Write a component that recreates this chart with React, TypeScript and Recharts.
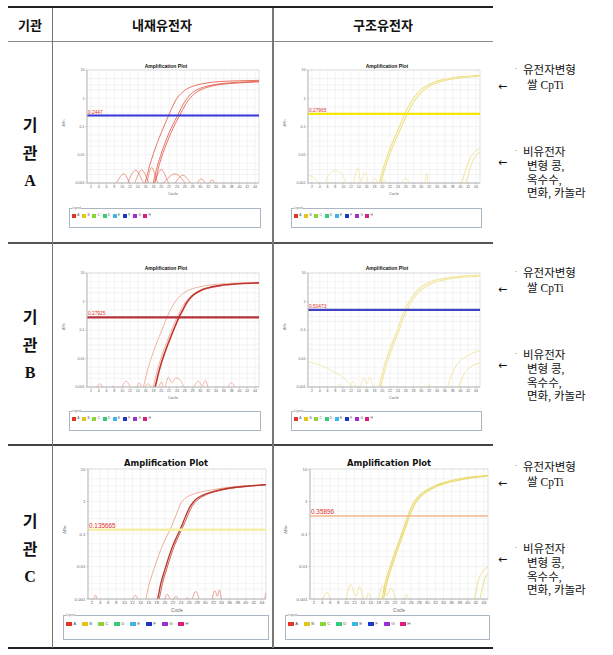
import React from "react";
import {
  CartesianGrid,
  Line,
  LineChart,
  ReferenceArea,
  ReferenceLine,
  XAxis,
  YAxis,
} from "recharts";

type Pt = [number, number];

// axes: cycle 1-45, ΔRn on log scale
const cycleTicks = [2, 4, 6, 8, 10, 12, 14, 16, 18, 20, 22, 24, 26, 28, 30, 32, 34, 36, 38, 40, 42, 44];
const rnTicks = [0.001, 0.01, 0.1, 1, 10];
const rnGrid = [0.001, 0.002, 0.003, 0.005, 0.01, 0.02, 0.03, 0.05, 0.1, 0.2, 0.3, 0.5, 1, 2, 3, 5, 10];

const headers = ["기관", "내재유전자", "구조유전자"];
const institutes = ["A", "B", "C"];
const gmLines = ["유전자변형", "쌀 CpTi"];
const nonGmLines = ["비유전자", "변형 콩,", "옥수수,", "면화, 카놀라"];
const wellLetters = ["A", "B", "C", "D", "E", "F", "G", "H"];
const wellColors = ["#e0352b", "#e3c417", "#8bd33a", "#35cc78", "#3cb6e2", "#1c36c8", "#9a30d0", "#d81f7d"];

// thresholds: A-left, A-right, B-left, B-right, C-left, C-right
const thresholds = [0.2447, 0.27965, 0.27925, 0.50473, 0.135665, 0.35896];

// ---- 기관 A, 내재유전자
const aLeftRun1: Pt[] = [[15, 0.0005], [16, 0.0012], [17, 0.004], [18, 0.011], [19, 0.027], [20, 0.06], [21, 0.13], [22, 0.27], [23, 0.55], [24, 1.0], [25, 1.45], [26, 1.9], [27, 2.3], [28, 2.65], [30, 3.15], [32, 3.55], [35, 3.9], [40, 4.15], [45, 4.3]];
const aLeftRun2: Pt[] = [[17, 0.0005], [18, 0.0011], [19, 0.004], [20, 0.011], [21, 0.027], [22, 0.06], [23, 0.12], [24, 0.22], [25, 0.42], [26, 0.75], [27, 1.15], [28, 1.6], [29, 1.95], [30, 2.25], [32, 2.75], [35, 3.25], [40, 3.7], [45, 4.0]];
const aLeftRun3: Pt[] = [[17.5, 0.0005], [18.5, 0.0012], [19.5, 0.0045], [20.5, 0.012], [21.5, 0.028], [22.5, 0.06], [23.5, 0.12], [24.5, 0.22], [25.5, 0.4], [26.5, 0.7], [27.5, 1.05], [28.5, 1.45], [30, 1.95], [32, 2.5], [35, 3.05], [40, 3.5], [45, 3.8]];
const aLeftNoise1: Pt[] = [[8, 0.0007], [10.5, 0.0021], [12.5, 0.0008], [15, 0.0029], [17.5, 0.0008], [20, 0.003], [22.5, 0.0008], [25.5, 0.0019], [28.5, 0.0008], [30.2, 0.0014], [32, 0.0008], [33, 0.0013], [34, 0.0007]];
const aLeftNoise2: Pt[] = [[11, 0.0007], [13.5, 0.0028], [16, 0.0009], [17.5, 0.0036], [19.5, 0.0009], [23.5, 0.0021], [26.5, 0.0008]];

// ---- 기관 A, 구조유전자
const aRightRun1: Pt[] = [[18, 0.0005], [19, 0.0008], [20, 0.0025], [21, 0.007], [22, 0.017], [23, 0.037], [24, 0.075], [25, 0.16], [26, 0.33], [27, 0.6], [28, 1.0], [29, 1.5], [30, 2.05], [31, 2.6], [33, 3.6], [35, 4.4], [38, 5.3], [41, 5.9], [45, 6.5]];
const aRightRun2: Pt[] = [[18.5, 0.0005], [19.5, 0.0009], [20.5, 0.0027], [21.5, 0.0072], [22.5, 0.017], [23.5, 0.036], [24.5, 0.072], [25.5, 0.15], [26.5, 0.3], [27.5, 0.55], [28.5, 0.9], [29.5, 1.35], [31, 2.1], [33, 3.1], [35, 3.9], [38, 4.8], [41, 5.4], [45, 6.0]];
const aRightLate1: Pt[] = [[40, 0.0007], [40.5, 0.0012], [41.5, 0.0035], [42.5, 0.0075], [43.5, 0.012], [45, 0.017]];
const aRightLate2: Pt[] = [[41, 0.0007], [41.5, 0.0011], [42.5, 0.0035], [43.5, 0.0075], [45, 0.0125]];
const aRightNoise1: Pt[] = [[1, 0.0019], [2, 0.0017], [3, 0.0013], [4, 0.0009], [5, 0.0007]];
const aRightNoise2: Pt[] = [[5, 0.0007], [6.5, 0.0021], [8, 0.0027], [9.5, 0.0022], [11, 0.0008]];
const aRightNoise3: Pt[] = [[12.5, 0.0007], [13.8, 0.0034], [14.5, 0.0011], [15.5, 0.0024], [16.8, 0.0008], [18, 0.0015], [19.4, 0.0008], [20.5, 0.0013], [21.5, 0.0008]];
const aRightNoise4: Pt[] = [[24.5, 0.0007], [26, 0.0015], [27.5, 0.0008], [30.8, 0.0008], [31.3, 0.0022], [31.8, 0.0008]];

// ---- 기관 B, 내재유전자
const bLeftRun1: Pt[] = [[14.5, 0.0005], [15.5, 0.0011], [16.5, 0.004], [17.5, 0.011], [18.5, 0.027], [19.5, 0.06], [20.5, 0.13], [21.5, 0.29], [22.5, 0.55], [23.5, 0.95], [24.5, 1.4], [25.5, 1.9], [27, 2.5], [29, 3.1], [32, 3.7], [36, 4.2], [40, 4.45], [45, 4.6]];
const bLeftRun2: Pt[] = [[17.5, 0.0005], [18.5, 0.0011], [19.5, 0.004], [20.5, 0.011], [21.5, 0.027], [22.5, 0.06], [23.5, 0.13], [24.5, 0.27], [25.5, 0.5], [26.5, 0.9], [27.5, 1.35], [28.5, 1.8], [30, 2.4], [32, 3.0], [35, 3.6], [40, 4.2], [45, 4.5]];
const bLeftRun3: Pt[] = [[17, 0.0005], [18, 0.0011], [19, 0.004], [20, 0.011], [21, 0.027], [22, 0.06], [23, 0.13], [24, 0.27], [25, 0.5], [26, 0.88], [27, 1.3], [28, 1.75], [29.5, 2.35], [32, 3.1], [35, 3.7], [40, 4.3], [45, 4.6]];
const bLeftNoise1: Pt[] = [[3, 0.0007], [4.3, 0.0013], [5.5, 0.0008], [7, 0.0007], [7.6, 0.0011], [8.3, 0.0007], [9.5, 0.0008], [11, 0.0016], [12.7, 0.0008], [13.5, 0.0008], [14.3, 0.0014], [15.2, 0.0008]];
const bLeftNoise2: Pt[] = [[15.5, 0.0008], [16.7, 0.0013], [17.8, 0.0008], [19, 0.0008], [20, 0.0015], [20.8, 0.0009], [21.8, 0.0022], [22.8, 0.0014], [23.6, 0.0021], [24.8, 0.0018], [26, 0.0008]];
const bLeftNoise3: Pt[] = [[28, 0.0008], [29.5, 0.0016], [30.5, 0.0011], [31.3, 0.0017], [32.3, 0.0008], [36.5, 0.0008], [37.8, 0.0014], [39.3, 0.0008]];

// ---- 기관 B, 구조유전자
const bRightRun1: Pt[] = [[18, 0.0005], [19, 0.0009], [20, 0.003], [21, 0.009], [22, 0.022], [23, 0.05], [24, 0.11], [25, 0.3], [26, 0.6], [27, 1.05], [28, 1.7], [29, 2.5], [30, 3.3], [32, 4.7], [34, 5.8], [37, 6.9], [40, 7.7], [45, 8.4]];
const bRightRun2: Pt[] = [[18.5, 0.0005], [19.5, 0.001], [20.5, 0.0032], [21.5, 0.0095], [22.5, 0.023], [23.5, 0.052], [24.5, 0.115], [25.5, 0.29], [26.5, 0.57], [27.5, 1.0], [28.5, 1.6], [29.5, 2.3], [31, 3.3], [33, 4.5], [36, 5.8], [40, 6.9], [45, 7.6]];
const bRightLate1: Pt[] = [[36.3, 0.0007], [36.8, 0.0011], [37.5, 0.0022], [38.5, 0.0045], [40, 0.0085], [42, 0.013], [45, 0.019]];
const bRightLate2: Pt[] = [[39.2, 0.0007], [39.7, 0.0011], [40.5, 0.0022], [41.5, 0.0037], [43, 0.0055], [45, 0.007]];
const bRightNoise1: Pt[] = [[1, 0.0078], [2, 0.0072], [3, 0.0066], [4, 0.006], [5, 0.0052], [6, 0.0045], [7, 0.0038], [8, 0.0032], [9, 0.0027], [10, 0.0021], [11, 0.0016], [12, 0.0011], [13, 0.0008]];
const bRightNoise2: Pt[] = [[8.3, 0.0008], [9.2, 0.0013], [10.2, 0.0008], [11.3, 0.0008], [12.5, 0.0016], [13.6, 0.0008], [14.2, 0.0009], [15.2, 0.0021], [16, 0.0013], [16.8, 0.0022], [17.6, 0.0012], [18.5, 0.0008]];
const bRightNoise3: Pt[] = [[22.5, 0.0008], [23, 0.0011], [23.5, 0.0008], [31, 0.0008], [32, 0.0012], [33, 0.0008]];

// ---- 기관 C, 내재유전자
const cLeftRun1: Pt[] = [[14.5, 0.0005], [15.3, 0.001], [16, 0.0025], [17, 0.0065], [18, 0.015], [19, 0.033], [20, 0.065], [21, 0.115], [22, 0.22], [23, 0.45], [24, 0.9], [25, 1.25], [26, 1.5], [28, 1.85], [30, 2.1], [33, 2.45], [36, 2.75], [40, 3.05], [45, 3.35]];
const cLeftRun2: Pt[] = [[17.5, 0.0005], [18.2, 0.001], [19, 0.003], [20, 0.008], [21, 0.02], [22, 0.045], [23, 0.085], [24, 0.16], [25, 0.32], [26, 0.62], [27, 0.95], [28, 1.25], [30, 1.7], [33, 2.2], [36, 2.6], [40, 2.95], [45, 3.3]];
const cLeftRun3: Pt[] = [[17.9, 0.0005], [18.6, 0.001], [19.4, 0.003], [20.4, 0.008], [21.4, 0.02], [22.4, 0.045], [23.4, 0.085], [24.4, 0.16], [25.4, 0.31], [26.4, 0.6], [27.4, 0.92], [28.4, 1.2], [30.4, 1.65], [33.4, 2.15], [36.4, 2.55], [40.4, 2.9], [45, 3.25]];
const cLeftNoise1: Pt[] = [[2.3, 0.0008], [2.9, 0.0013], [3.5, 0.0008], [11.5, 0.0008], [12.7, 0.0013], [13.8, 0.0008], [19.5, 0.0008], [20.6, 0.0014], [21.6, 0.0009], [22.8, 0.0012], [24, 0.0008], [24.8, 0.0008], [25.5, 0.0011], [26.3, 0.0008], [27.6, 0.0017], [28.7, 0.0008]];
const cLeftNoise2: Pt[] = [[31.5, 0.0008], [32.4, 0.0018], [33, 0.0012], [33.5, 0.0019], [34.2, 0.0008], [44.3, 0.0008], [45, 0.0016]];

// ---- 기관 C, 구조유전자
const cRightRun1: Pt[] = [[18, 0.0005], [18.8, 0.001], [19.5, 0.0028], [20.5, 0.0075], [21.5, 0.018], [22.5, 0.04], [23.5, 0.09], [24.5, 0.2], [25.5, 0.45], [26.5, 0.85], [27.5, 1.3], [28.5, 1.75], [30, 2.3], [32, 3.1], [35, 4.1], [38, 5.0], [41, 5.7], [45, 6.4]];
const cRightRun2: Pt[] = [[18.4, 0.0005], [19.2, 0.001], [19.9, 0.0028], [20.9, 0.0075], [21.9, 0.018], [22.9, 0.04], [23.9, 0.09], [24.9, 0.2], [25.9, 0.44], [26.9, 0.82], [27.9, 1.25], [28.9, 1.65], [30.4, 2.2], [32.4, 2.95], [35.4, 3.9], [38.4, 4.7], [41.4, 5.4], [45, 6.0]];
const cRightLate1: Pt[] = [[41.3, 0.0007], [41.8, 0.0012], [42.5, 0.0033], [43.5, 0.0065], [45, 0.0098]];
const cRightLate2: Pt[] = [[42.7, 0.0007], [43.2, 0.0013], [44, 0.0035], [45, 0.0062]];
const cRightNoise1: Pt[] = [[4, 0.0008], [5.2, 0.0016], [6.5, 0.0008], [9.5, 0.0008], [11, 0.0028], [12.3, 0.0012], [13.2, 0.0024], [14.5, 0.0009], [15.5, 0.0015], [16.3, 0.0008]];
const cRightNoise2: Pt[] = [[17.8, 0.0008], [19, 0.0025], [20, 0.0013], [21, 0.0022], [22.8, 0.0008], [24, 0.0008], [24.8, 0.0014], [25.8, 0.0008], [30.2, 0.0008], [30.7, 0.0011], [31.2, 0.0008]];

interface Curve {
  pts: Pt[];
  color: string;
  width: number;
}

interface PlotProps {
  col: number;
  plotTop: number;
  plotH: number;
  plotW: number;
  axisW: number;
  big?: boolean;
  curves: Curve[];
  threshold: number;
  thresholdColor: string;
  thresholdWidth: number;
}

const SANS = '"Liberation Sans", "DejaVu Sans", sans-serif';
const KR = '"Noto Sans CJK KR", sans-serif';
const KR_SERIF = '"Liberation Serif", "Noto Sans CJK KR", serif';

function AmpPlot(p: PlotProps) {
  const mt = 4;
  const xh = p.big ? 13 : 12;
  const width = p.axisW + p.plotW + 8;
  const height = mt + p.plotH + xh;
  const fs = p.big ? 4.4 : 3.6;

  return (
    <div style={{ position: "absolute", left: p.col, top: p.plotTop - mt }}>
      <LineChart width={width} height={height} margin={{ top: mt, right: 8, bottom: 0, left: 0 }}>
        <CartesianGrid
          stroke="#e9e9e9"
          strokeWidth={0.5}
          horizontalValues={rnGrid}
          verticalValues={cycleTicks}
        />
        <ReferenceArea x1={1} x2={45} y1={0.001} y2={10} fill="none" stroke="#cfcfcf" strokeWidth={0.6} />
        <XAxis
          type="number"
          dataKey="c"
          domain={[1, 45]}
          ticks={cycleTicks}
          interval={0}
          allowDataOverflow
          height={xh}
          stroke="#bdbdbd"
          tickSize={1.5}
          tickMargin={0.5}
          tick={{ fontSize: fs, fill: "#666", fontFamily: SANS }}
          label={{ value: "Cycle", position: "insideBottom", offset: 0, fontSize: fs + 0.4, fill: "#666", fontFamily: SANS }}
        />
        <YAxis
          type="number"
          scale="log"
          domain={[0.001, 10]}
          ticks={rnTicks}
          interval={0}
          allowDataOverflow
          width={p.axisW}
          stroke="#bdbdbd"
          tickSize={1.5}
          tickMargin={1}
          tickFormatter={(v: number) => String(v)}
          tick={{ fontSize: fs, fill: "#666", fontFamily: SANS }}
          label={{ value: "ΔRn", angle: -90, position: "insideLeft", offset: 12, fontSize: fs, fill: "#666", fontFamily: SANS }}
        />
        {p.curves.map((cv, i) => (
          <Line
            key={i}
            data={cv.pts.map(([c, v]) => ({ c, v }))}
            dataKey="v"
            type="monotone"
            stroke={cv.color}
            strokeWidth={cv.width}
            dot={false}
            activeDot={false}
            isAnimationActive={false}
          />
        ))}
        <ReferenceLine
          y={p.threshold}
          stroke={p.thresholdColor}
          strokeWidth={p.thresholdWidth}
          label={{
            content: (lp: any) => (
              <text
                x={lp.viewBox.x + 1}
                y={lp.viewBox.y - p.thresholdWidth / 2 - 0.8}
                fontSize={p.big ? 6.4 : 4.8}
                fill="#e0302a"
                fontFamily={SANS}
              >
                {String(p.threshold)}
              </text>
            ),
          }}
        />
      </LineChart>
    </div>
  );
}

function PlotTitle({ cx, cy, size, family }: { cx: number; cy: number; size: number; family: string }) {
  return (
    <div
      style={{
        position: "absolute",
        left: cx - 60,
        width: 120,
        top: cy - size / 2,
        lineHeight: `${size}px`,
        fontSize: size,
        fontWeight: 700,
        fontFamily: family,
        textAlign: "center",
        color: "#111",
      }}
    >
      Amplification Plot
    </div>
  );
}

function WellLegend({ left, top, width, height, big }: { left: number; top: number; width: number; height: number; big?: boolean }) {
  const step = big ? 16 : 10.2;
  const sw = big ? 6 : 4;
  const sh = big ? 4.5 : 3.4;
  const fs = big ? 4.4 : 3.2;
  const rowY = big ? 8 : 7;
  return (
    <div
      style={{
        position: "absolute",
        left,
        top,
        width,
        height,
        boxSizing: "border-box",
        border: "1px solid #aab6c4",
        background: "#fff",
      }}
    >
      <div style={{ position: "absolute", left: 2, top: -2.5, fontSize: 2.6, lineHeight: "3px", color: "#777", background: "#fff", fontFamily: SANS }}>
        Legend
      </div>
      {wellLetters.map((w, i) => (
        <div key={w} style={{ position: "absolute", left: 2 + i * step, top: rowY - sh / 2, height: sh, display: "flex", alignItems: "center" }}>
          <div style={{ width: sw, height: sh, background: wellColors[i] }} />
          <div style={{ marginLeft: 1.2, fontSize: fs, lineHeight: `${sh}px`, color: "#555", fontFamily: SANS }}>{w}</div>
        </div>
      ))}
    </div>
  );
}

function HLine({ x1, x2, y, h, color }: { x1: number; x2: number; y: number; h: number; color: string }) {
  return <div style={{ position: "absolute", left: x1, top: y - h / 2, width: x2 - x1, height: h, background: color }} />;
}

function VLine({ x, y1, y2, w, color }: { x: number; y1: number; y2: number; w: number; color: string }) {
  return <div style={{ position: "absolute", left: x - w / 2, top: y1, width: w, height: y2 - y1, background: color }} />;
}

function Txt({ x, y, size, children, family, weight, anchor }: { x: number; y: number; size: number; children: React.ReactNode; family: string; weight?: number; anchor?: "start" | "middle" }) {
  const w = 200;
  return (
    <div
      style={{
        position: "absolute",
        left: anchor === "middle" ? x - w / 2 : x,
        width: w,
        top: y - size * 0.6,
        lineHeight: `${size * 1.2}px`,
        fontSize: size,
        fontFamily: family,
        fontWeight: weight ?? 400,
        textAlign: anchor === "middle" ? "center" : "left",
        color: "#111",
        whiteSpace: "nowrap",
      }}
    >
      {children}
    </div>
  );
}

function Notes({ dy }: { dy: number }) {
  const fs = 11.5;
  const arrow = '"DejaVu Sans", sans-serif';
  return (
    <>
      <Txt x={515} y={69 + dy} size={7} family={KR_SERIF}>·</Txt>
      <Txt x={523} y={71 + dy} size={fs} family={KR_SERIF}>{gmLines[0]}</Txt>
      <Txt x={498} y={87 + dy} size={11} family={arrow}>←</Txt>
      <Txt x={527} y={86 + dy} size={fs} family={KR_SERIF}>{gmLines[1]}</Txt>
      <Txt x={515} y={151 + dy} size={7} family={KR_SERIF}>·</Txt>
      <Txt x={523} y={153 + dy} size={fs} family={KR_SERIF}>{nonGmLines[0]}</Txt>
      <Txt x={498} y={163 + dy} size={11} family={arrow}>←</Txt>
      <Txt x={527} y={167 + dy} size={fs} family={KR_SERIF}>{nonGmLines[1]}</Txt>
      <Txt x={527} y={181 + dy} size={fs} family={KR_SERIF}>{nonGmLines[2]}</Txt>
      <Txt x={527} y={194 + dy} size={fs} family={KR_SERIF}>{nonGmLines[3]}</Txt>
    </>
  );
}

const cols = [52, 273];
const rowCenters = [153, 345, 549];

export default function App() {
  const red = "#e2503e";
  const yel = "#efe08a";
  const smallTitle = '"Liberation Sans", sans-serif';
  const bigTitle = '"DejaVu Sans", sans-serif';

  return (
    <div style={{ position: "absolute", left: 0, top: 0, width: 613, height: 655, background: "#fff", overflow: "hidden" }}>
      {/* table frame */}
      <HLine x1={8} x2={493} y={7} h={2} color="#222" />
      <HLine x1={8} x2={493} y={41} h={1} color="#888" />
      <HLine x1={8} x2={493} y={243} h={2} color="#555" />
      <HLine x1={8} x2={493} y={445} h={2} color="#444" />
      <HLine x1={8} x2={493} y={648} h={2} color="#222" />
      <VLine x={52} y1={8} y2={648} w={1} color="#777" />
      <VLine x={273} y1={8} y2={648} w={1.2} color="#777" />

      <Txt x={30} y={25} size={13} family={KR} weight={700} anchor="middle">{headers[0]}</Txt>
      <Txt x={162} y={25} size={13} family={KR} weight={700} anchor="middle">{headers[1]}</Txt>
      <Txt x={383} y={25} size={13} family={KR} weight={700} anchor="middle">{headers[2]}</Txt>

      {institutes.map((name, i) => (
        <React.Fragment key={name}>
          <Txt x={30} y={rowCenters[i] - 28} size={16} family={KR} weight={700} anchor="middle">기</Txt>
          <Txt x={30} y={rowCenters[i]} size={16} family={KR} weight={700} anchor="middle">관</Txt>
          <Txt x={30} y={rowCenters[i] + 28} size={16} family={'"Liberation Serif", serif'} weight={700} anchor="middle">{name}</Txt>
        </React.Fragment>
      ))}

      {/* row A */}
      <PlotTitle cx={cols[0] + 114} cy={66} size={5} family={smallTitle} />
      <PlotTitle cx={cols[1] + 114} cy={66} size={5} family={smallTitle} />
      <AmpPlot
        col={cols[0]} plotTop={70} plotH={113} plotW={172} axisW={35}
        threshold={thresholds[0]} thresholdColor="#3535d8" thresholdWidth={2.2}
        curves={[
          { pts: aLeftNoise1, color: "#e2604a", width: 0.6 },
          { pts: aLeftNoise2, color: "#e2604a", width: 0.6 },
          { pts: aLeftRun1, color: red, width: 0.8 },
          { pts: aLeftRun2, color: red, width: 0.8 },
          { pts: aLeftRun3, color: red, width: 0.8 },
        ]}
      />
      <AmpPlot
        col={cols[1]} plotTop={70} plotH={113} plotW={172} axisW={35}
        threshold={thresholds[1]} thresholdColor="#f5e800" thresholdWidth={2.2}
        curves={[
          { pts: aRightNoise1, color: "#efe39a", width: 0.7 },
          { pts: aRightNoise2, color: "#efe39a", width: 0.7 },
          { pts: aRightNoise3, color: "#efe39a", width: 0.7 },
          { pts: aRightNoise4, color: "#efe39a", width: 0.7 },
          { pts: aRightLate1, color: yel, width: 0.9 },
          { pts: aRightLate2, color: yel, width: 0.9 },
          { pts: aRightRun1, color: yel, width: 1.1 },
          { pts: aRightRun2, color: yel, width: 1.1 },
        ]}
      />
      <WellLegend left={cols[0] + 17} top={208} width={192} height={20} />
      <WellLegend left={cols[1] + 18} top={208} width={191} height={20} />
      <Notes dy={0} />

      {/* row B */}
      <PlotTitle cx={cols[0] + 114} cy={268} size={5} family={smallTitle} />
      <PlotTitle cx={cols[1] + 114} cy={268} size={5} family={smallTitle} />
      <AmpPlot
        col={cols[0]} plotTop={273} plotH={114} plotW={172} axisW={35}
        threshold={thresholds[2]} thresholdColor="#b63238" thresholdWidth={2.2}
        curves={[
          { pts: bLeftNoise1, color: "#e98a74", width: 0.6 },
          { pts: bLeftNoise2, color: "#e98a74", width: 0.6 },
          { pts: bLeftNoise3, color: "#e98a74", width: 0.6 },
          { pts: bLeftRun1, color: "#eaa38a", width: 0.8 },
          { pts: bLeftRun3, color: "#e9886e", width: 0.7 },
          { pts: bLeftRun2, color: "#c1332d", width: 1.6 },
        ]}
      />
      <AmpPlot
        col={cols[1]} plotTop={273} plotH={114} plotW={172} axisW={35}
        threshold={thresholds[3]} thresholdColor="#3d43c2" thresholdWidth={2.2}
        curves={[
          { pts: bRightNoise1, color: "#eee29e", width: 0.7 },
          { pts: bRightNoise2, color: "#eee29e", width: 0.7 },
          { pts: bRightNoise3, color: "#eee29e", width: 0.7 },
          { pts: bRightLate1, color: "#efe3a2", width: 0.9 },
          { pts: bRightLate2, color: "#efe3a2", width: 0.9 },
          { pts: bRightRun1, color: "#f2e8aa", width: 1.3 },
          { pts: bRightRun2, color: "#f2e8aa", width: 1.3 },
        ]}
      />
      <WellLegend left={cols[0] + 17} top={411} width={192} height={20} />
      <WellLegend left={cols[1] + 18} top={411} width={191} height={20} />
      <Notes dy={203} />

      {/* row C */}
      <PlotTitle cx={cols[0] + 114} cy={463} size={8.4} family={bigTitle} />
      <PlotTitle cx={cols[1] + 116} cy={463} size={8.4} family={bigTitle} />
      <AmpPlot
        col={cols[0]} plotTop={469} plotH={130} plotW={178} axisW={36} big
        threshold={thresholds[4]} thresholdColor="#f4efa4" thresholdWidth={2.6}
        curves={[
          { pts: cLeftNoise1, color: "#e47b70", width: 0.7 },
          { pts: cLeftNoise2, color: "#e47b70", width: 0.7 },
          { pts: cLeftRun1, color: "#eda58c", width: 0.9 },
          { pts: cLeftRun3, color: "#c64a3c", width: 0.9 },
          { pts: cLeftRun2, color: "#b9352c", width: 1.3 },
        ]}
      />
      <AmpPlot
        col={cols[1]} plotTop={469} plotH={130} plotW={178} axisW={37} big
        threshold={thresholds[5]} thresholdColor="#f2b58f" thresholdWidth={1.6}
        curves={[
          { pts: cRightNoise1, color: "#ebe08c", width: 0.8 },
          { pts: cRightNoise2, color: "#ebe08c", width: 0.8 },
          { pts: cRightLate1, color: "#e6dc80", width: 0.9 },
          { pts: cRightLate2, color: "#e6dc80", width: 0.9 },
          { pts: cRightRun1, color: "#e8dc72", width: 1.2 },
          { pts: cRightRun2, color: "#e8dc72", width: 1.2 },
        ]}
      />
      <WellLegend left={cols[0] + 11} top={615} width={206} height={25} big />
      <WellLegend left={cols[1] + 12} top={615} width={205} height={25} big />
      <Notes dy={397} />
    </div>
  );
}
